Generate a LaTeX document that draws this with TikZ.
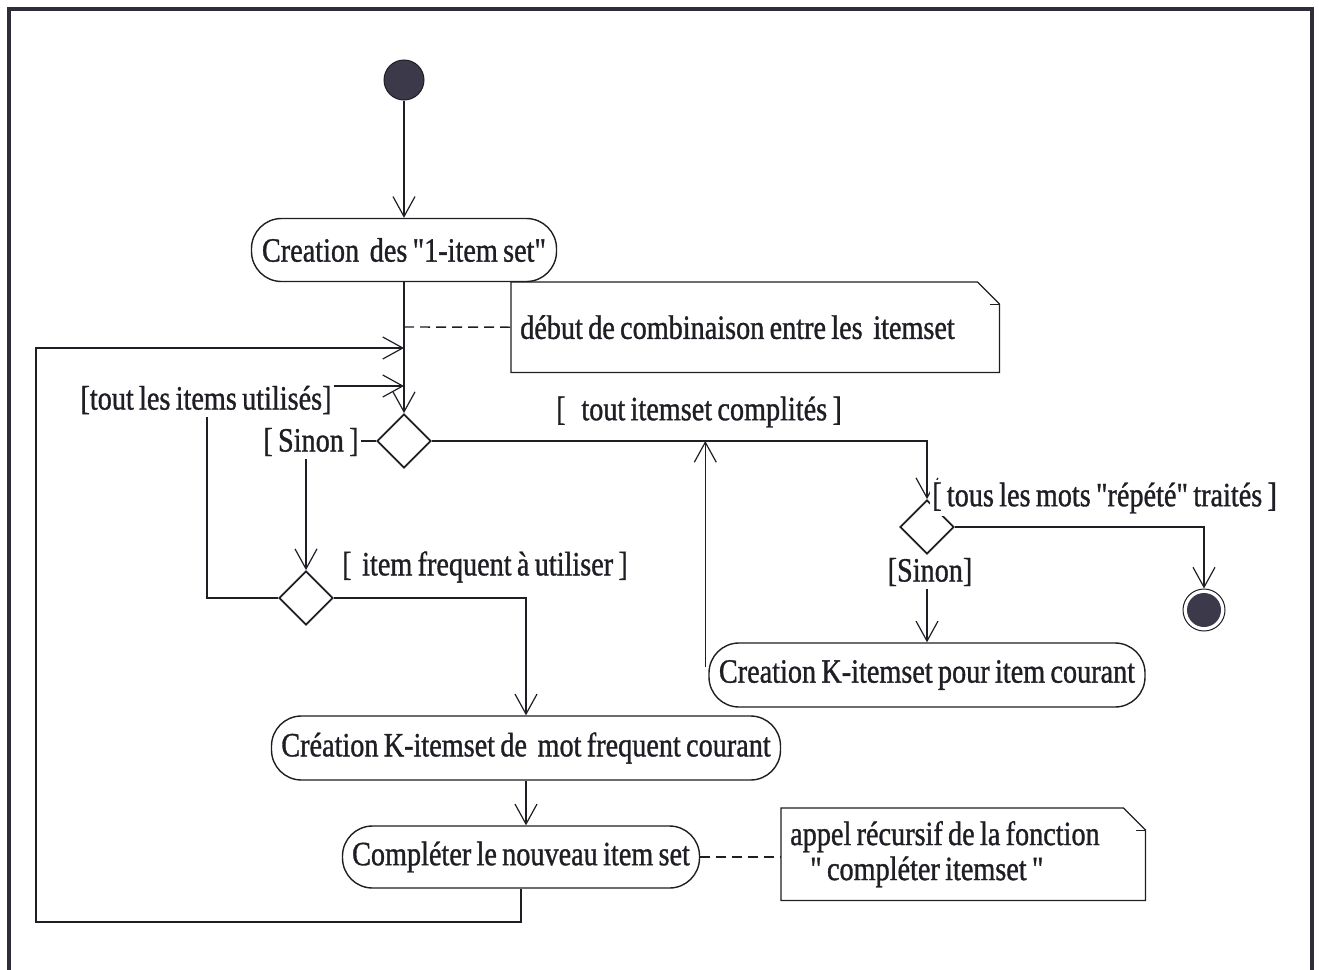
\documentclass[tikz,border=0pt]{standalone}
\usepackage{fontspec}
\setmainfont{Liberation Serif}[FakeStretch=0.83, FakeBold=1.0, WordSpace=0.75, Ligatures=TeXOff]
\usetikzlibrary{arrows.meta,shapes.geometric,calc}
\definecolor{ink}{HTML}{1E1E24}
\definecolor{framec}{HTML}{2E2D3C}
\definecolor{dot}{HTML}{3C3A4A}
\begin{document}
\begin{tikzpicture}[x=1pt,y=-1pt,
  every node/.style={font=\fontsize{34}{35}\selectfont, text=ink},
  activity/.style={draw=ink, line width=1.4pt, rounded corners=30pt, minimum height=63pt, inner sep=0pt},
  choice/.style={draw=ink, line width=1.8pt, diamond, aspect=1, minimum width=54pt, minimum height=54pt, inner sep=0pt},
  flow/.style={draw=ink, line width=1.2pt},
  arr/.style={flow, -{Straight Barb[length=20pt,width=22pt,line width=1.2pt]}},
  guard/.style={fill=white, inner xsep=2pt, inner ysep=3pt},
  link/.style={draw=ink, line width=1.4pt, dash pattern=on 10pt off 6pt},
  notebox/.style={inner xsep=9pt, inner ysep=0pt, align=left, anchor=north west},
  noteline/.style={draw=ink, line width=1.2pt},
]
\useasboundingbox (0,0) rectangle (1319,969);
% outer frame
\draw[framec, line width=4pt] (9,990) -- (9,9) -- (1312,9) -- (1312,990);

% states
\node[circle, fill=dot, draw=ink, line width=1pt, minimum size=40pt, inner sep=0pt] (init) at (404,80) {};
\node[activity, minimum width=305pt] (n1) at (404,250) {Creation\ \ des "1-item set"};
\node[choice] (d1) at (404,441) {};
\node[choice] (d2) at (306,598) {};
\node[choice] (d3) at (927,527) {};
\node[circle, draw=ink, line width=1pt, minimum size=42pt, inner sep=0pt] (fin) at (1204,610) {};
\fill[dot] (fin.center) circle (17);
\node[activity, minimum width=436pt, minimum height=64pt] (k1) at (927,675) {Creation K-itemset pour item courant};
\node[activity, minimum width=509pt, minimum height=64pt] (k2) at (526,748) {Création K-itemset de\ \ mot frequent courant};
\node[activity, minimum width=357pt, minimum height=62pt] (k3) at (521,857) {Compléter le nouveau item set};

% notes (natural interword spaces inside the ragged boxes)
\node[notebox, text width=470pt, minimum height=90pt] (note1) at (511,282)
  {\spaceskip=0pt\xspaceskip=0pt\relax début de combinaison entre les\ \ itemset};
\node[notebox, text width=346pt, minimum height=92pt] (note2) at (781,808)
  {\spaceskip=0pt\xspaceskip=0pt\relax appel récursif de la fonction\\\hspace*{20pt}"\ compléter itemset\ "};
\foreach \n in {note1,note2}{
  \draw[noteline] (\n.north west) -- ($(\n.north east)+(-22,0)$) -- ($(\n.north east)+(0,22)$)
    -- (\n.south east) -- (\n.south west) -- cycle;
  \draw[noteline, line width=1pt] ($(\n.north east)+(-9,22)$) -- ($(\n.north east)+(0,22)$);
}

% transitions
\draw[arr] (init) -- (n1);
\draw[arr] (n1.south) -- (d1.north);
\coordinate (j1) at (404,327);
\draw[link] (j1) -- (note1.west);
\draw[arr] (k3.south) |- (36,922) |- (d1.north |- 0,348);
\draw[arr] (d2.west) -| (207,386) -- (d1.north |- 0,386);
\draw[arr] (d1.west) -| (d2.north);
\draw[arr] (d1.east) -| (d3.north);
\draw[arr] (d3.east) -| (fin.north);
\draw[arr] (d3.south) -- (k1.north);
\coordinate (kup) at ($(k1.west)+(-3,-8)$);
\draw[arr] (kup) -- (kup |- d1.east);
\draw[arr] (d2.east) -| (k2.north);
\draw[arr] (k2.south) -- (k2.south |- k3.north);
\draw[link] (k3.east) -- (note2.west |- k3.east);

% guards
\node[guard] (gUsed) at (206,400) {[tout les items utilisés]};
\node[guard] (gElse1) at (311,442) {[ Sinon ]};
\node[guard] (gDone) at (699,412) {[\ \ \ tout itemset complités ]};
\node[guard] (gFreq) at (485,567) {[\ \ item frequent à utiliser ]};
\node[guard, anchor=west] (gWords) at (930,498) {[ tous les mots "répété" traités ]};
\node[guard] (gElse2) at (930,572) {[Sinon]};
\end{tikzpicture}
\end{document}
